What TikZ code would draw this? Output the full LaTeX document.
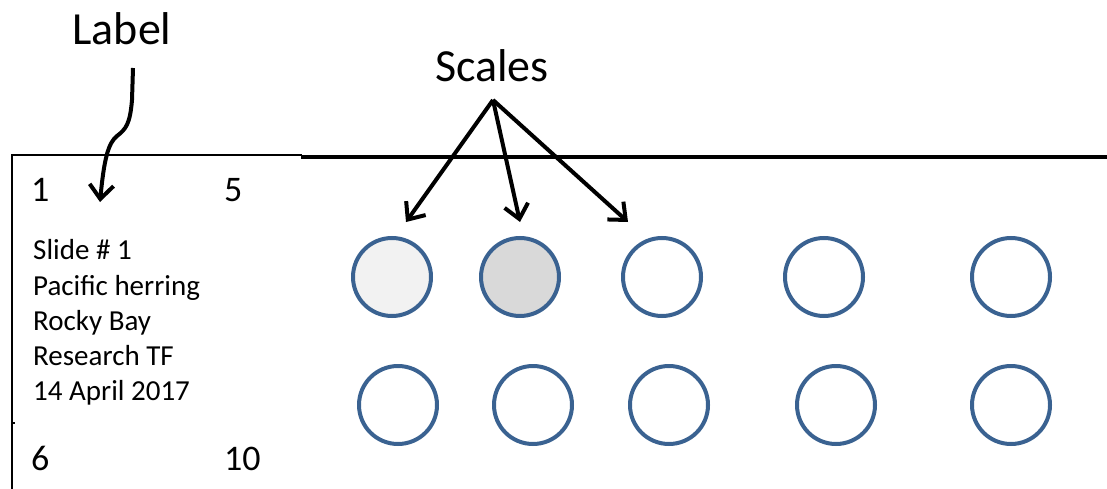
\documentclass[tikz,border=0pt]{standalone}
\usepackage{fontspec}
\setmainfont{Carlito}
\usetikzlibrary{arrows.meta}
\definecolor{ringblue}{HTML}{3A6291}
\definecolor{fillA}{HTML}{F2F2F2}
\definecolor{fillB}{HTML}{D9D9D9}
\begin{document}
\begin{tikzpicture}[x=1pt,y=-1pt,
  big/.style={font=\fontsize{46}{50}\selectfont, inner sep=0pt, anchor=base},
  small/.style={font=\fontsize{29}{35}\selectfont, inner sep=0pt, anchor=base west},
  num/.style={font=\fontsize{36}{40}\selectfont, inner sep=0pt, anchor=base west},
  scale ring/.style={circle, draw=ringblue, line width=4pt, minimum size=78pt, inner sep=0pt},
  pointer/.style={line width=4pt, -{Straight Barb[length=14pt,width=24pt,line width=4pt]}}
]
\useasboundingbox (0,0) rectangle (1107,489);
% frame
\draw[line width=2pt] (12,489) -- (12,155.5) -- (302,155.5);
\draw[line width=3.5pt] (301,157) -- (1107,157);
\draw[line width=2pt] (12,423) -- (15,423);
% titles
\node[big] (label) at (122,45) {Label};
\node[big] (scales) at (492,82) {Scales};
% numbers
\node[num] (n1) at (31,201) {1};
\node[num] (n5) at (224,201) {5};
\node[num] (n6) at (31,470) {6};
\node[num] (n10) at (224,470) {10};
% label text
\node[small] (t1) at (33,259) {Slide \# 1};
\node[small] (t2) at (33,295) {Pacific herring};
\node[small] (t3) at (33,330) {Rocky Bay};
\node[small] (t4) at (33,365) {Research TF};
\node[small] (t5) at (33,400) {14 April 2017};
% scales
\node[scale ring, fill=fillA] (s1) at (392,277) {};
\node[scale ring, fill=fillB] (s2) at (520,277) {};
\node[scale ring] (s3) at (662,277) {};
\node[scale ring] (s4) at (824,277) {};
\node[scale ring] (s5) at (1011,277) {};
\node[scale ring] (s6) at (398,405) {};
\node[scale ring] (s7) at (533,405) {};
\node[scale ring] (s8) at (669,405) {};
\node[scale ring] (s9) at (836,405) {};
\node[scale ring] (s10) at (1011,405) {};
% arrows
\coordinate (lstart) at (133,68);
\coordinate (lend) at (100,202);
\draw[pointer] (lstart) -- (132,100) .. controls (130,124) and (126,129) .. (117,136)
  .. controls (108,143) and (104,160) .. (lend);
\coordinate (sorig) at (493,100);
\coordinate (a1) at (406,222);
\coordinate (a2) at (520,222);
\coordinate (a3) at (628,222);
\draw[pointer] (sorig) -- (a1);
\draw[pointer] (sorig) -- (a2);
\draw[pointer] (sorig) -- (a3);
\end{tikzpicture}
\end{document}
